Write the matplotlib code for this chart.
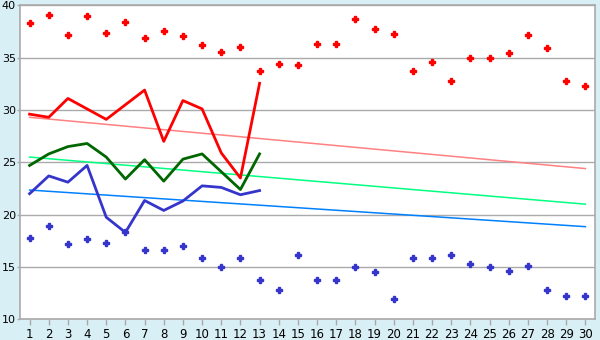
import matplotlib
matplotlib.use("Agg")
import matplotlib.pyplot as plt
import numpy as np

days = list(range(1, 31))
max_points = [38.3, 39.1, 37.2, 39.0, 37.4, 38.4, 36.9, 37.5, 37.1, 36.2,
              35.5, 36.0, 33.7, 34.4, 34.3, 36.3, 36.3, 38.7, 37.7, 37.3,
              33.7, 34.6, 32.8, 35.0, 35.0, 35.4, 37.2, 35.9, 32.8, 32.3]
min_points = [17.8, 18.9, 17.2, 17.7, 17.3, 18.3, 16.6, 16.6, 17.0, 15.9,
              15.0, 15.9, 13.8, 12.8, 16.1, 13.8, 13.8, 15.0, 14.5, 11.9,
              15.9, 15.9, 16.1, 15.3, 15.0, 14.6, 15.1, 12.8, 12.2, 12.2]
line_days = list(range(1, 14))
max_line = [29.6, 29.3, 31.1, 30.1, 29.1, 30.5, 31.9, 27.0, 30.9, 30.1, 25.9, 23.5, 32.55]
mean_line = [24.7, 25.8, 26.5, 26.8, 25.5, 23.4, 25.25, 23.2, 25.3, 25.8, 24.1, 22.4, 25.8]
min_line = [22.0, 23.7, 23.1, 24.7, 19.75, 18.3, 21.35, 20.4, 21.3, 22.75, 22.6, 21.9, 22.3]
trend_days = [1, 30]
max_trend = [29.3, 24.4]
mean_trend = [25.5, 21.0]
min_trend = [22.35, 18.85]

bg = "#d9eff6"
fig = plt.figure(figsize=(6, 3.4), dpi=100, facecolor=bg)
ax = fig.add_axes([20/600, (340-319.3)/340, 575/600, 314/340])
ax.set_facecolor("white")

ax.plot(trend_days, max_trend, color="#ff8080", lw=1.1)
ax.plot(trend_days, mean_trend, color="#00ff80", lw=1.1)
ax.plot(trend_days, min_trend, color="#0080ff", lw=1.1)

ax.plot(line_days, max_line, color="#ff0000", lw=2)
ax.plot(line_days, mean_line, color="#006600", lw=2)
ax.plot(line_days, min_line, color="#3535cc", lw=2)

ax.plot(days, max_points, linestyle="none", marker="P", ms=4, color="#ff0000", mec="#ff0000")
ax.plot(days, min_points, linestyle="none", marker="P", ms=4, color="#3535cc", mec="#3535cc")

ax.set_xlim(0.5, 30.5)
ax.set_ylim(10, 40)
ax.set_xticks(days)
ax.set_yticks([10, 15, 20, 25, 30, 35, 40])
ax.grid(axis="y", color="#aaaaaa", lw=1)
ax.set_axisbelow(True)
for s in ax.spines.values():
    s.set_color("#aaaaaa")
    s.set_linewidth(1.2)
ax.tick_params(axis="both", colors="#aaaaaa", labelcolor="black", labelsize=8, width=1)
ax.tick_params(axis="y", pad=0.5, length=2.5)
ax.tick_params(axis="x", pad=2, length=4, labelsize=8.5)

fig.savefig("out.png", dpi=100, facecolor=bg)
